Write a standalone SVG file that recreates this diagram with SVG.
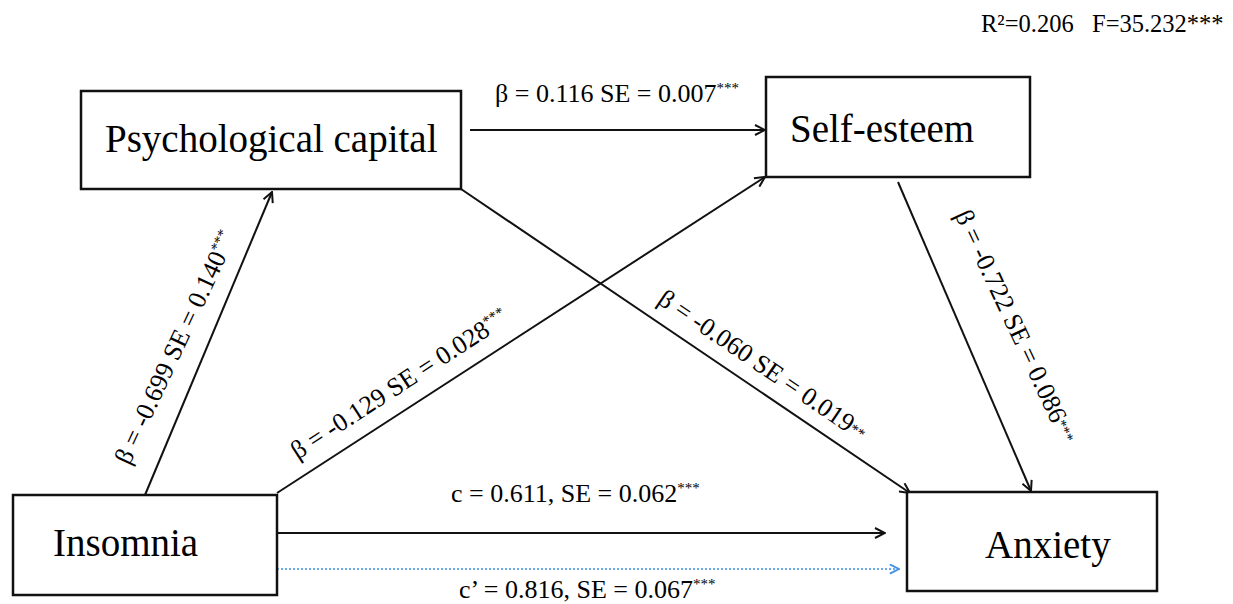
<svg xmlns="http://www.w3.org/2000/svg" width="1233" height="604" viewBox="0 0 1233 604">
<defs>
<style>
.box{fill:#fff;stroke:#111;stroke-width:2.5}
.nt{font-family:"Liberation Serif","Times New Roman",serif;font-size:39px;fill:#000}
.lb{font-family:"Liberation Serif","Times New Roman",serif;font-size:26px;fill:#000}
.sup{font-size:15px}
.ln{stroke:#111;stroke-width:2;fill:none}
.dl{stroke:#3d8fe6;stroke-width:1.5;stroke-dasharray:2 2;fill:none}
</style>
<marker id="ah" viewBox="0 0 12 12" refX="11" refY="6" markerWidth="12" markerHeight="12" markerUnits="userSpaceOnUse" orient="auto">
<path d="M1,1 L11,6 L1,11" fill="none" stroke="#111" stroke-width="2"/>
</marker>
<marker id="ahb" viewBox="0 0 12 12" refX="11" refY="6" markerWidth="11" markerHeight="11" markerUnits="userSpaceOnUse" orient="auto">
<path d="M1,1 L11,6 L1,11" fill="none" stroke="#3d8fe6" stroke-width="2"/>
</marker>
</defs>
<rect width="1233" height="604" fill="#fff"/>
<text class="lb" x="981" y="32" style="font-size:24.5px" xml:space="preserve">R²=0.206   F=35.232***</text>
<g id="connectors">
<line class="ln" x1="470" y1="130" x2="765" y2="130" marker-end="url(#ah)"/>
<line class="ln" x1="145" y1="495" x2="272" y2="192" marker-end="url(#ah)"/>
<line class="ln" x1="277" y1="493" x2="765" y2="177" marker-end="url(#ah)"/>
<line class="ln" x1="461" y1="189" x2="910" y2="493" marker-end="url(#ah)"/>
<line class="ln" x1="898" y1="182" x2="1031" y2="491" marker-end="url(#ah)"/>
<line class="ln" x1="277" y1="533" x2="885" y2="533" marker-end="url(#ah)"/>
<line class="dl" x1="277" y1="569" x2="899" y2="569" marker-end="url(#ahb)"/>
<text class="lb" x="495" y="102">β = 0.116 SE = 0.007<tspan class="sup" dy="-9">***</tspan></text>
<text class="lb" text-anchor="middle" transform="translate(183,351) rotate(-65)">β = -0.699 SE = 0.140<tspan class="sup" dy="-9">***</tspan></text>
<text class="lb" text-anchor="middle" transform="translate(404,391) rotate(-33)">β = -0.129 SE = 0.028<tspan class="sup" dy="-9">***</tspan></text>
<text class="lb" text-anchor="middle" transform="translate(758,372) rotate(34.3)">β = -0.060 SE = 0.019<tspan class="sup" dy="-2">**</tspan></text>
<text class="lb" text-anchor="middle" transform="translate(1008,330) rotate(65)">β = -0.722 SE = 0.086<tspan class="sup" dy="-4">***</tspan></text>
<text class="lb" x="451" y="502">c = 0.611, SE = 0.062<tspan class="sup" dy="-9">***</tspan></text>
<text class="lb" x="459" y="598">c’ = 0.816, SE = 0.067<tspan class="sup" dy="-9">***</tspan></text>
</g>
<g id="psych">
<rect class="box" x="81" y="91" width="380" height="98"/>
<text class="nt" x="105" y="152">Psychological capital</text>
</g>
<g id="selfesteem">
<rect class="box" x="766" y="77" width="264" height="100"/>
<text class="nt" x="790" y="142">Self-esteem</text>
</g>
<g id="insomnia">
<rect class="box" x="13" y="495" width="264" height="100"/>
<text class="nt" x="53" y="556">Insomnia</text>
</g>
<g id="anxiety">
<rect class="box" x="907" y="492" width="250" height="99"/>
<text class="nt" x="985" y="558">Anxiety</text>
</g>
</svg>
